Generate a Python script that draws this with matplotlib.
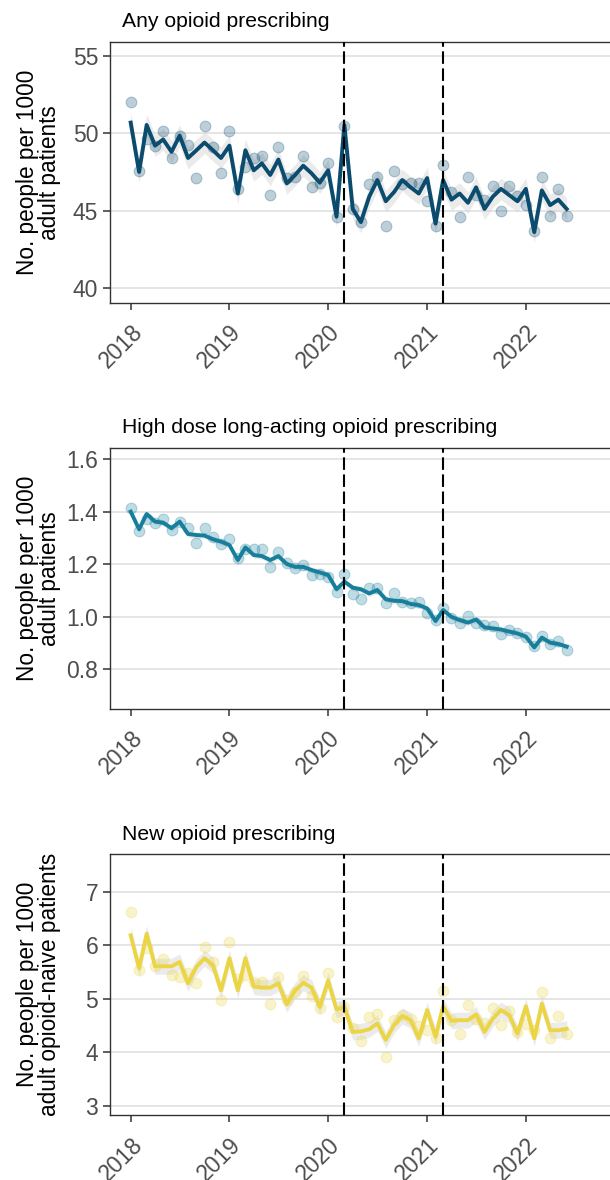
import matplotlib
matplotlib.use("Agg")
import matplotlib.pyplot as plt
import matplotlib.dates as mdates
import numpy as np
import pandas as pd

plt.rcParams['font.family'] = ['Liberation Sans', 'DejaVu Sans']

# monthly data, Jan 2018 - Jun 2022
months = pd.date_range('2018-01-01', periods=54, freq='MS')
breaks = pd.to_datetime(['2020-03-01', '2021-03-01'])
year_ticks = pd.to_datetime(['2018-01-01', '2019-01-01', '2020-01-01',
                             '2021-01-01', '2022-01-01'])

any_obs = [52.0, 47.55, 49.6, 49.18, 50.17, 48.4, 49.8, 49.24, 47.1, 50.48,
           49.1, 47.4, 50.17, 46.36, 47.84, 48.38, 48.5, 46.0, 49.1, 47.1,
           47.2, 48.5, 46.5, 46.8, 48.1, 44.55, 50.48, 45.1, 44.27, 46.7,
           47.2, 43.98, 47.58, 46.7, 46.75, 46.8, 45.6, 43.98, 47.95, 46.2,
           44.55, 47.2, 46.0, 45.67, 46.6, 45.0, 46.6, 45.93, 45.35, 43.7,
           47.2, 44.65, 46.36, 44.65]
any_fit = [50.69, 47.5, 50.54, 49.2, 49.6, 48.8, 49.85, 48.4, 48.9, 49.4,
           48.9, 48.4, 49.2, 46.1, 48.9, 47.6, 48.05, 47.3, 48.3, 46.75,
           47.3, 47.9, 47.4, 46.8, 47.6, 44.6, 50.54, 45.1, 44.25, 45.9,
           46.97, 45.6, 46.2, 46.97, 46.5, 46.1, 47.1, 44.15, 46.97, 45.7,
           46.1, 45.5, 46.5, 45.1, 45.9, 46.4, 45.99, 45.6, 46.4, 43.6,
           46.3, 45.35, 45.7, 45.1]

hd_obs = [1.415, 1.328, 1.371, 1.358, 1.372, 1.33, 1.359, 1.337, 1.28, 1.337,
          1.305, 1.277, 1.296, 1.222, 1.257, 1.257, 1.257, 1.19, 1.248, 1.203,
          1.184, 1.197, 1.159, 1.163, 1.153, 1.096, 1.162, 1.087, 1.067, 1.108,
          1.108, 1.051, 1.089, 1.058, 1.051, 1.058, 1.016, 0.99, 1.035, 0.994,
          0.975, 1.003, 0.975, 0.969, 0.965, 0.935, 0.95, 0.937, 0.925, 0.889,
          0.928, 0.897, 0.909, 0.874]
hd_fit = [1.40, 1.333, 1.391, 1.362, 1.358, 1.337, 1.362, 1.315, 1.311, 1.309,
          1.295, 1.286, 1.273, 1.216, 1.264, 1.235, 1.231, 1.216, 1.231, 1.201,
          1.19, 1.19, 1.178, 1.169, 1.159, 1.105, 1.134, 1.111, 1.105, 1.089,
          1.102, 1.067, 1.061, 1.06, 1.049, 1.045, 1.032, 0.984, 1.026, 1.0,
          0.988, 0.978, 0.99, 0.96, 0.956, 0.952, 0.944, 0.937, 0.925, 0.884,
          0.921, 0.902, 0.897, 0.887]

new_obs = [6.63, 5.54, 5.95, 5.61, 5.74, 5.44, 5.41, 5.49, 5.29, 5.98,
           5.69, 4.98, 6.07, 5.38, 5.45, 5.32, 5.32, 4.91, 5.4, 4.98,
           5.13, 5.43, 5.05, 4.82, 5.49, 4.66, 4.84, 4.46, 4.21, 4.66,
           4.71, 3.91, 4.61, 4.69, 4.63, 4.49, 4.41, 4.26, 5.14, 4.6,
           4.35, 4.89, 4.63, 4.54, 4.82, 4.51, 4.78, 4.38, 4.53, 4.41,
           5.13, 4.27, 4.68, 4.35]
new_fit = [6.19, 5.57, 6.22, 5.61, 5.61, 5.61, 5.69, 5.29, 5.6, 5.76,
           5.63, 5.16, 5.76, 5.16, 5.76, 5.23, 5.21, 5.21, 5.29, 4.9,
           5.16, 5.3, 5.21, 4.85, 5.34, 4.8, 4.85, 4.38, 4.39, 4.43,
           4.54, 4.23, 4.51, 4.68, 4.6, 4.26, 4.79, 4.29, 4.86, 4.59,
           4.6, 4.6, 4.71, 4.38, 4.63, 4.79, 4.69, 4.35, 4.86, 4.26,
           4.91, 4.41, 4.41, 4.44]

titles = ['Any opioid prescribing',
          'High dose long-acting opioid prescribing',
          'New opioid prescribing']
ylabels = ['No. people per 1000\nadult patients',
           'No. people per 1000\nadult patients',
           'No. people per 1000\nadult opioid-naive patients']
colors = ['#0a4b6e', '#157f9c', '#ebd545']
ci_half = [0.7, 0.012, 0.15]
yticks = [[40, 45, 50, 55], [0.8, 1.0, 1.2, 1.4, 1.6], [3, 4, 5, 6, 7]]
ylims = [(39.03, 55.93), (0.651, 1.643), (2.82, 7.71)]
tick_fmt = ['{:.0f}', '{:.1f}', '{:.0f}']

obs = [any_obs, hd_obs, new_obs]
fit = [any_fit, hd_fit, new_fit]

fig = plt.figure(figsize=(6.1, 11.8), dpi=100)
W, H = 610, 1180
tops = [41.7, 447.7, 854.2]
ph = 261
pw = 520  # panel runs past the right edge of the picture
x0 = mdates.date2num(pd.Timestamp('2018-01-01') - pd.Timedelta(days=76.5))
x1 = mdates.date2num(pd.Timestamp('2018-01-01') + pd.Timedelta(days=1846))

for k in range(3):
    ax = fig.add_axes([110 / W, 1 - (tops[k] + ph) / H, pw / W, ph / H])
    f = np.array(fit[k])
    ax.fill_between(months, f - ci_half[k], f + ci_half[k], color='#d4d4d4',
                    alpha=0.45, lw=0, zorder=2)
    ax.scatter(months, obs[k], s=60, color=colors[k], alpha=0.27,
               edgecolors=colors[k], linewidths=0.8, zorder=3)
    ax.plot(months, f, color=colors[k], lw=2.8, zorder=4)
    for d in breaks:
        ax.axvline(d, color='black', lw=1.5, ls=(0, (6, 2.2)), zorder=5)

    ax.set_xlim(x0, x1)
    ax.set_ylim(*ylims[k])
    ax.set_yticks(yticks[k])
    ax.set_yticklabels([tick_fmt[k].format(v) for v in yticks[k]])
    ax.set_xticks(year_ticks)
    ax.set_xticklabels([str(d.year) for d in year_ticks])
    ax.grid(axis='y', color='#e3e3e3', lw=1.3, zorder=0)
    ax.set_axisbelow(True)
    for s in ax.spines.values():
        s.set_color('#333333')
        s.set_linewidth(1.0)
    ax.tick_params(axis='both', colors='#333333', labelcolor='#4d4d4d',
                   labelsize=16.5, length=5, width=1.1)
    ax.tick_params(axis='x', pad=8)
    for lab in ax.get_xticklabels():
        lab.set_rotation(45)
        lab.set_ha('right')
        lab.set_va('top')
        lab.set_rotation_mode('anchor')
    ax.set_ylabel(ylabels[k], fontsize=16.3, color='black', linespacing=0.92)
    ax.yaxis.set_label_coords(-0.098 * 501 / pw, 0.5)
    ax.text(12 / pw, 1 + 14.5 / ph, titles[k], transform=ax.transAxes,
            fontsize=15.2, color='black', ha='left', va='baseline')

fig.savefig('out.png', dpi=100)
